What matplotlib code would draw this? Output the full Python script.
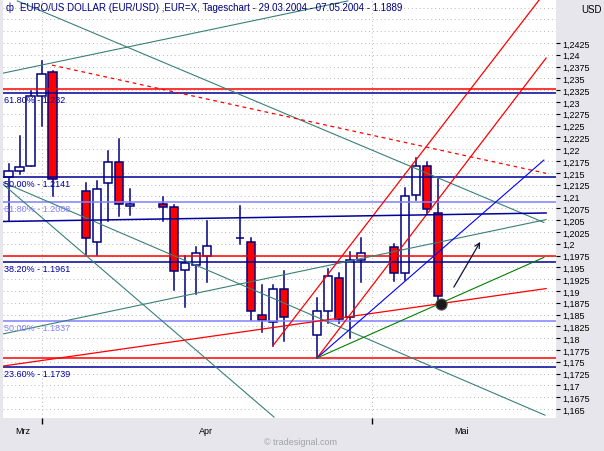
import matplotlib
matplotlib.use('Agg')
import matplotlib.pyplot as plt
from matplotlib.patches import Rectangle
from matplotlib.ticker import FixedLocator, FuncFormatter
from matplotlib.transforms import blended_transform_factory

plt.rcParams['font.family'] = ['Liberation Sans', 'DejaVu Sans']

# weekday slots counted from Mon 29.03.2004 (weekends stay empty)
slots = [0, 1, 2, 3, 4, 7, 8, 9, 10, 11, 14, 15, 16, 17, 18,
         21, 22, 23, 24, 25, 28, 29, 30, 31, 32, 35, 36, 37, 38, 39]
opens = [1.2141, 1.2153, 1.2164, 1.2312, 1.2363, 1.2111, 1.2003, 1.2128, 1.2172, 1.2079,
         1.2083, 1.2077, 1.1945, 1.1954, 1.1975, 1.2011, 1.2003, 1.1850, 1.1835, 1.1905,
         1.1807, 1.1858, 1.1928, 1.1845, 1.1966, 1.1994, 1.1939, 1.2104, 1.2164, 1.2066]
highs = [1.2168, 1.2228, 1.2323, 1.2387, 1.2366, 1.2128, 1.2132, 1.2196, 1.2221, 1.2115,
         1.2098, 1.2081, 1.1973, 1.1994, 1.2047, 1.2079, 1.2011, 1.1913, 1.1913, 1.1943,
         1.1886, 1.1947, 1.1937, 1.1983, 1.2011, 1.2000, 1.2117, 1.2181, 1.2172, 1.2136]
lows = [1.2047, 1.2147, 1.2164, 1.2249, 1.2100, 1.1977, 1.1977, 1.2047, 1.2058, 1.2060,
        1.2049, 1.1901, 1.1865, 1.1894, 1.1918, 1.2000, 1.1839, 1.1814, 1.1784, 1.1794,
        1.1758, 1.1833, 1.1833, 1.1801, 1.1918, 1.1920, 1.1924, 1.2092, 1.2062, 1.1875]
closes = [1.2153, 1.2162, 1.2312, 1.2359, 1.2136, 1.2013, 1.2115, 1.2172, 1.2085, 1.2085,
          1.2077, 1.1943, 1.1960, 1.1981, 1.1996, 1.2011, 1.1858, 1.1839, 1.1905, 1.1845,
          1.1858, 1.1932, 1.1841, 1.1966, 1.1981, 1.1937, 1.2100, 1.2164, 1.2073, 1.1889]

# price axis ticks (labelled) and extra grid rows above them
price_ticks = [1.165, 1.1675, 1.17, 1.1725, 1.175, 1.1775, 1.18, 1.1825, 1.185, 1.1875,
               1.19, 1.1925, 1.195, 1.1975, 1.2, 1.2025, 1.205, 1.2075, 1.21, 1.2125,
               1.215, 1.2175, 1.22, 1.2225, 1.225, 1.2275, 1.23, 1.2325, 1.235, 1.2375,
               1.24, 1.2425]
grid_extra = [1.245, 1.2475, 1.25]

# horizontal levels
red_levels = [1.2327, 1.1975, 1.1759]
fib_dark = [1.2320, 1.2141, 1.1961, 1.1739]
fib_dark_labels = ['61.80% - 1.232', '50.00% - 1.2141', '38.20% - 1.1961', '23.60% - 1.1739']
fib_light = [1.2088, 1.1837]
fib_light_labels = ['61.80% - 1.2088', '50.00% - 1.1837']

# trend lines (slot, price) end points
teal_x = [[-0.5, 30.8], [0.8, 48.6], [-0.5, 48.7], [-0.5, 24.1], [-0.5, 48.8]]
teal_y = [[1.2361, 1.2514], [1.2514, 1.2045], [1.2130, 1.1637], [1.2126, 1.1633], [1.1809, 1.2051]]
red_x = [[-0.5, 48.8], [24.0, 48.8], [28.0, 48.8]]
red_y = [[1.1741, 1.1905], [1.1784, 1.2535], [1.1758, 1.2393]]
red_dash_x = [3.95, 48.8]
red_dash_y = [1.2378, 1.2149]
navy_x = [-0.5, 48.8]
navy_y = [1.2047, 1.2065]
blue_x = [28.0, 48.6]
blue_y = [1.1758, 1.2177]
green_x = [28.0, 48.6]
green_y = [1.1758, 1.1971]
arrow_from = (40.3, 1.1903)
arrow_to = (42.95, 1.2009)
marker_pt = (39.3, 1.1873)

month_ticks = [3, 33]
month_names = ['Mrz', 'Apr', 'Mai']
month_label_pos = [1.3, 17.9, 41.1]

NAVY = '#000080'
LIGHT = '#8080ff'
TEAL = '#3a8078'
RED = '#ff0000'

W, H = 604, 452
fig = plt.figure(figsize=(W / 100, H / 100), dpi=100)
fig.patch.set_facecolor('#e6e6ec')
ax = fig.add_axes([3 / W, 33 / H, 553 / W, 419 / H])
ax.set_facecolor('white')
ax.set_xlim(-0.5, 49.7)
ax.set_ylim(1.1631, 1.2518)

for s in ax.spines.values():
    s.set_visible(False)

ax.yaxis.tick_right()
ax.yaxis.set_major_locator(FixedLocator(price_ticks))
ax.yaxis.set_major_formatter(FuncFormatter(lambda v, p: ('%.4f' % v).rstrip('0').replace('.', ',')))
ax.tick_params(axis='y', length=3, width=0.8, pad=1.5, labelsize=6.5, colors='black')
ax.set_xticks(month_ticks)
ax.set_xticklabels([])
ax.tick_params(axis='x', length=4, width=1, direction='out', colors='black')
ax.grid(True, linestyle=(0, (1, 3)), color='#b8b8b8', linewidth=0.7)
for v in grid_extra:
    ax.axhline(v, linestyle=(0, (1, 3)), color='#b8b8b8', linewidth=0.7, zorder=0.5)
ax.set_axisbelow(True)

# candles
for s, o, h, l, c in zip(slots, opens, highs, lows, closes):
    face = 'white' if c >= o else RED
    ax.plot([s, s], [l, h], color=NAVY, lw=1.1, zorder=2)
    ax.add_patch(Rectangle((s - 0.37, min(o, c)), 0.74, abs(c - o),
                           facecolor=face, edgecolor=NAVY, lw=1.1, zorder=3))

# horizontal lines
for v in red_levels:
    ax.axhline(v, color=RED, lw=1.1, zorder=4)
for v, t in zip(fib_dark, fib_dark_labels):
    ax.axhline(v, color='#000099', lw=1.1, zorder=4)
    ax.annotate(t, (-0.45, v), xytext=(0, -1.5), textcoords='offset points',
                va='top', ha='left', fontsize=6.5, color='#0000a0', zorder=6)
for v, t in zip(fib_light, fib_light_labels):
    ax.axhline(v, color=LIGHT, lw=1.1, zorder=4)
    ax.annotate(t, (-0.45, v), xytext=(0, -1.5), textcoords='offset points',
                va='top', ha='left', fontsize=6.5, color=LIGHT, zorder=6)

# trend lines
for xs, ys in zip(teal_x, teal_y):
    ax.plot(xs, ys, color=TEAL, lw=0.8, zorder=4)
for xs, ys in zip(red_x, red_y):
    ax.plot(xs, ys, color=RED, lw=0.9, zorder=4)
ax.plot(red_dash_x, red_dash_y, color=RED, lw=0.9, ls=(0, (3, 3)), zorder=4)
ax.plot(navy_x, navy_y, color='#000099', lw=1.1, zorder=4)
ax.plot(blue_x, blue_y, color='#0000ff', lw=0.8, zorder=4)
ax.plot(green_x, green_y, color='#008000', lw=0.8, zorder=4)

ax.annotate('', xy=arrow_to, xytext=arrow_from,
            arrowprops=dict(arrowstyle='->', color='#101040', lw=0.9, mutation_scale=9), zorder=5)
ax.plot(*marker_pt, 'o', ms=8, color='#1a1a1a', mec='#505050', mew=0.8, zorder=6)

# month labels
tr = blended_transform_factory(ax.transData, ax.transAxes)
for name, pos in zip(month_names, month_label_pos):
    ax.text(pos, -13 / 419, name, transform=tr, ha='center', va='center', fontsize=6.5)

# header texts
fig.text(10 / W, 1 - 8 / H, 'ф', color=NAVY, fontsize=7, ha='center', va='center')
fig.text(20 / W, 1 - 8 / H,
         'EURO/US DOLLAR (EUR/USD) ,EUR=X, Tageschart - 29.03.2004 - 07.05.2004 - 1.1889',
         color=NAVY, fontsize=7, ha='left', va='center')
fig.text(591 / W, 1 - 10 / H, 'USD', color='black', fontsize=7, ha='center', va='center')
fig.text(300 / W, 1 - 443 / H, '© tradesignal.com', color='#a0a0a8', fontsize=6.5,
         ha='center', va='center')

fig.savefig('out.png', dpi=100, facecolor=fig.get_facecolor())
